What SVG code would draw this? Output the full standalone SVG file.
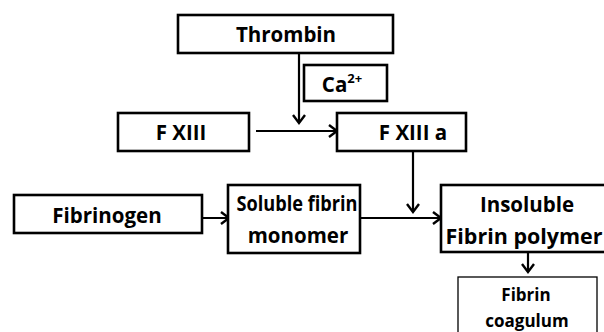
<svg xmlns="http://www.w3.org/2000/svg" width="604" height="332" viewBox="0 0 604 332">
<style>
.box{fill:#fff;stroke:#000;stroke-width:2.6}
.thin{fill:#fff;stroke:#000;stroke-width:1.3}
.t{font-family:"Open Sans","Liberation Sans",sans-serif;font-weight:bold;font-size:20.5px;fill:#000;text-anchor:middle}
.s{font-family:"Open Sans","Liberation Sans",sans-serif;font-weight:bold;font-size:17px;fill:#000;text-anchor:middle}
.c{fill:none;stroke:#000;stroke-width:2.2;marker-end:url(#ah)}
</style>
<defs>
<marker id="ah" viewBox="0 0 12 14" refX="10" refY="7" markerWidth="12" markerHeight="14" orient="auto" markerUnits="userSpaceOnUse">
<polyline points="2,1 10,7 2,13" fill="none" stroke="#000" stroke-width="2.4"/>
</marker>
</defs>
<rect width="604" height="332" fill="#fff"/>
<g id="connectors">
<line class="c" x1="299" y1="53" x2="299" y2="123"/>
<line class="c" x1="256" y1="131" x2="337" y2="131"/>
<line class="c" x1="413" y1="151" x2="413" y2="212"/>
<line class="c" x1="185" y1="218" x2="229" y2="218"/>
<line class="c" x1="360" y1="218" x2="441" y2="218"/>
<line class="c" x1="528" y1="252" x2="528" y2="272"/>
</g>
<g id="thrombin"><rect class="box" x="178" y="15" width="215" height="38"/><text class="t" x="286" y="42">Thrombin</text></g>
<g id="ca"><rect class="box" x="304" y="65" width="83" height="36"/><text class="t" x="342" y="92">Ca<tspan font-size="13" dy="-9">2+</tspan></text></g>
<g id="fxiii"><rect class="box" x="118" y="113" width="131" height="38"/><text class="t" x="181" y="140">F XIII</text></g>
<g id="fxiiia"><rect class="box" x="337" y="113" width="129" height="38"/><text class="t" x="413" y="140">F XIII a</text></g>
<g id="fibrinogen"><rect class="box" x="14" y="195" width="188" height="38"/><text class="t" x="107" y="223">Fibrinogen</text></g>
<g id="soluble"><rect class="box" x="228" y="185" width="132" height="68"/><text class="t" x="297" y="211" textLength="121" lengthAdjust="spacingAndGlyphs">Soluble fibrin</text><text class="t" x="298" y="243">monomer</text></g>
<g id="insoluble"><rect class="box" x="441" y="185" width="170" height="67"/><text class="t" x="527" y="212">Insoluble</text><text class="t" x="524" y="244" textLength="157" lengthAdjust="spacingAndGlyphs">Fibrin polymer</text></g>
<g id="coagulum"><rect class="thin" x="458" y="277" width="139" height="60"/><text class="s" x="526" y="301">Fibrin</text><text class="s" x="527" y="327">coagulum</text></g>
</svg>
